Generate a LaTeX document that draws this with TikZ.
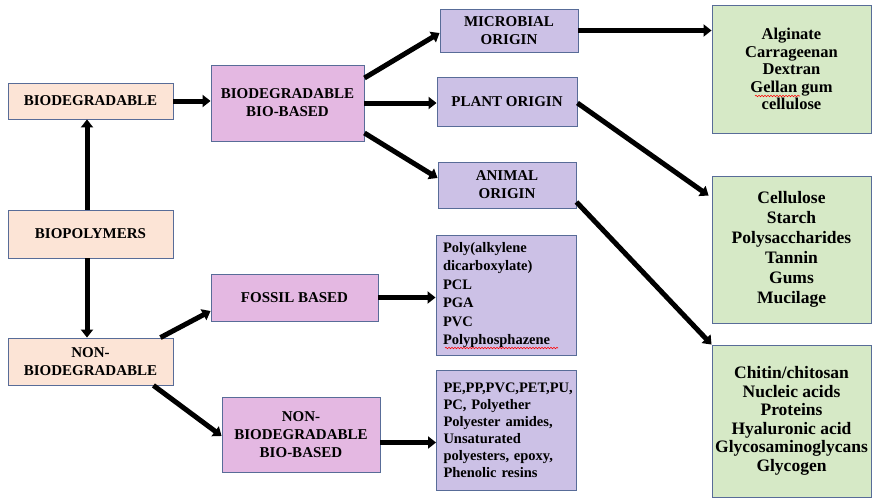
\documentclass[tikz,border=0pt]{standalone}
\usepackage{fontspec}
\setmainfont{Liberation Serif}
\usetikzlibrary{arrows.meta,calc,decorations.pathmorphing}
\definecolor{peach}{RGB}{252,228,214}
\definecolor{pinkv}{RGB}{228,184,226}
\definecolor{lav}{RGB}{204,193,230}
\definecolor{grn}{RGB}{214,233,198}
\definecolor{bord}{RGB}{88,108,152}
\begin{document}
\begin{tikzpicture}[x=1pt,y=-1pt,
  box/.style={draw=bord,line width=0.9pt,inner sep=0pt,align=center,
    font=\fontsize{15}{18}\selectfont\bfseries},
  lbox/.style={draw=bord,line width=0.9pt,fill=lav,inner xsep=7pt,inner ysep=0pt,
    text width=126pt,align=left,minimum height=120pt,
    font=\fontsize{14.5}{18.5}\selectfont\bfseries},
  gbox/.style={draw=bord,line width=0.9pt,fill=grn,inner sep=0pt,align=center,
    minimum width=159pt},
  arr/.style={line width=5pt,-{Triangle[length=8pt,width=12pt]}},
  squig/.style={red,line width=0.6pt,decorate,
    decoration={snake,amplitude=0.7pt,segment length=3pt}}]
\fill[white] (0,0) rectangle (873,498);
\useasboundingbox (0,0) rectangle (873,498);

\node[box,fill=peach,minimum width=165pt,minimum height=36pt] (bio) at (90.5,101) {BIODEGRADABLE};
\node[box,fill=pinkv,minimum width=153pt,minimum height=76pt] (bbb) at (287.5,103) {BIODEGRADABLE\\BIO-BASED};
\node[box,fill=peach,minimum width=165pt,minimum height=48pt] (poly) at (90.5,234) {BIOPOLYMERS};
\node[box,fill=peach,minimum width=165pt,minimum height=47pt] (nonbio) at (90.5,361.5) {NON-\\BIODEGRADABLE};
\node[box,fill=pinkv,minimum width=167pt,minimum height=47pt] (fossil) at (294.5,297.5) {FOSSIL BASED};
\node[box,fill=pinkv,minimum width=158pt,minimum height=75pt] (nbbb) at (301,434.5) {NON-\\BIODEGRADABLE\\BIO-BASED};
\node[box,fill=lav,minimum width=138pt,minimum height=43pt] (micro) at (509,30.5) {MICROBIAL\\ORIGIN};
\node[box,fill=lav,minimum width=140pt,minimum height=49pt] (plant) at (507,101.5) {PLANT ORIGIN};
\node[box,fill=lav,minimum width=138pt,minimum height=46pt] (animal) at (507,185) {ANIMAL\\ORIGIN};

\node[lbox] (flist) at (506,295) {Poly(alkylene\\dicarboxylate)\\PCL\\PGA\\PVC\\Polyphosphazene};
\node[lbox,font=\fontsize{14.5}{17}\selectfont\bfseries] (nlist) at (506.5,430) {PE,PP,PVC,PET,PU,\\PC, Polyether\\Polyester amides,\\Unsaturated\\polyesters, epoxy,\\Phenolic resins};

\node[gbox,minimum height=128pt,font=\fontsize{16.5}{17.5}\selectfont\bfseries] (g1) at (791.5,69) {Alginate\\Carrageenan\\Dextran\\Gellan gum\\cellulose};
\node[gbox,minimum height=147pt,font=\fontsize{17.5}{20}\selectfont\bfseries] (g2) at (791.5,249.5) {Cellulose\\Starch\\Polysaccharides\\Tannin\\Gums\\Mucilage};
\node[gbox,minimum height=152pt,font=\fontsize{17.5}{18.5}\selectfont\bfseries] (g3) at (791.5,421) {Chitin/chitosan\\Nucleic acids\\Proteins\\Hyaluronic acid\\Glycosaminoglycans\\Glycogen};

\coordinate (nb1) at ($(nbbb.east)+(0,8)$);

\draw[arr] (bio.east) -- (bio.east -| bbb.west);
\draw[arr] ([xshift=-3.5pt]poly.north) -- ([xshift=-3.5pt]bio.south);
\draw[arr] ([xshift=-3.5pt]poly.south) -- ([xshift=-3.5pt]nonbio.north);
\draw[arr] ($(nonbio.north east)+(-13,0)$) -- ($(fossil.west)+(0,13.5)$);
\draw[arr] ($(nonbio.south east)+(-20,0)$) -- ($(nbbb.west)+(0,1.5)$);
\draw[arr] ($(bbb.east)+(0,-25)$) -- ($(micro.west)+(0,2.5)$);
\draw[arr] (bbb.east) -- (bbb.east -| plant.west);
\draw[arr] ($(bbb.east)+(0,30)$) -- ($(animal.west)+(0,-7)$);
\draw[arr] (micro.east) -- (micro.east -| g1.west);
\draw[arr] ($(plant.east)+(0,1.5)$) -- ($(g2.north west)+(-3,20)$);
\draw[arr] ($(animal.east)+(0,17)$) -- (g3.north west);
\draw[arr] (fossil.east) -- (fossil.east -| flist.west);
\draw[arr] (nb1) -- (nb1 -| nlist.west);

\draw[squig] (755,96) -- (800,96);
\draw[squig] (445,348) -- (558,348);
\end{tikzpicture}
\end{document}
